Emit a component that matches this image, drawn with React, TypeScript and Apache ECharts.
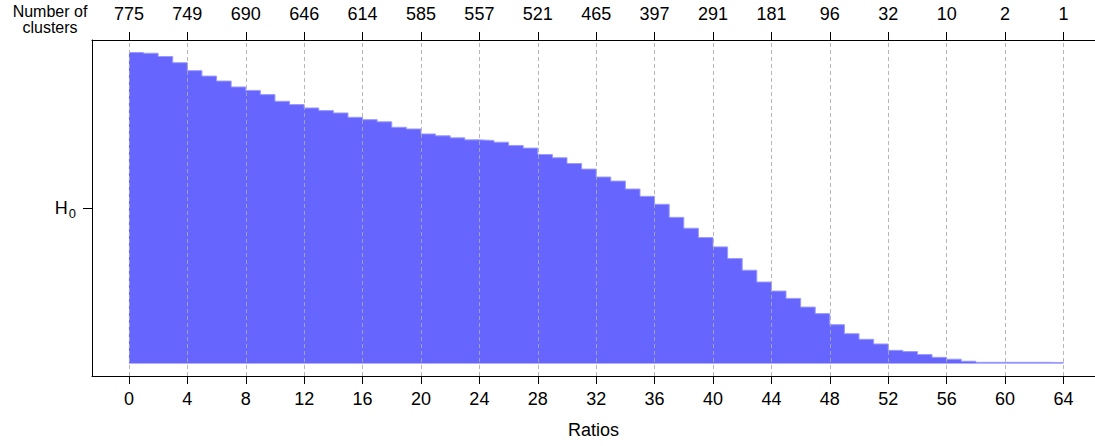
import { useEffect, useRef } from "react";
import * as echarts from "echarts";

// Bottom axis ticks (ratios) and matching top-axis labels (number of clusters)
const tickRatios = [0, 4, 8, 12, 16, 20, 24, 28, 32, 36, 40, 44, 48, 52, 56, 60, 64];
const clusterCounts = [775, 749, 690, 646, 614, 585, 557, 521, 465, 397, 291, 181, 96, 32, 10, 2, 1];

// Step heights for each unit interval [k, k+1), expressed relative to H0 = 1
const stepHeights = [
  2.0, 1.995, 1.974, 1.934, 1.883, 1.848, 1.816, 1.778, 1.756, 1.729,
  1.686, 1.665, 1.643, 1.626, 1.611, 1.583, 1.568, 1.554, 1.519, 1.508,
  1.476, 1.464, 1.451, 1.438, 1.434, 1.423, 1.402, 1.385, 1.344, 1.323,
  1.286, 1.25, 1.199, 1.173, 1.122, 1.075, 1.024, 0.94, 0.87, 0.81,
  0.75, 0.675, 0.6, 0.524, 0.466, 0.419, 0.363, 0.321, 0.25, 0.192,
  0.156, 0.126, 0.085, 0.077, 0.058, 0.04, 0.028, 0.015, 0.008, 0.008,
  0.008, 0.008, 0.008, 0.006,
];

const h0Value = 1;
const topTitleLines = ["Number of", "clusters"];

export default function App() {
  const ref = useRef<HTMLDivElement>(null);
  useEffect(() => {
    const chart = echarts.init(ref.current!, null, { renderer: "svg" });
    const data: number[][] = stepHeights.map((v, i) => [i, v]);
    data.push([stepHeights.length, stepHeights[stepHeights.length - 1]]);
    const font = "'Liberation Sans', Arial, Helvetica, sans-serif";
    const axisLine = { show: true, onZero: false, lineStyle: { color: "#000", width: 1 } };
    const axisTick = {
      show: true,
      length: 8,
      inside: false,
      customValues: tickRatios,
      lineStyle: { color: "#000", width: 1 },
    };
    const xMin = -2.53;
    const xMax = 66.16;
    chart.setOption({
      animation: false,
      textStyle: { fontFamily: font },
      grid: { left: 92, top: 40, width: 1003, height: 336, containLabel: false },
      graphic: topTitleLines.map((t, i) => ({
        type: "text",
        x: 50,
        y: 11 + i * 16,
        style: {
          text: t,
          fontSize: 16,
          lineHeight: 16,
          fontFamily: font,
          fill: "#000",
          align: "center",
          verticalAlign: "middle",
        },
      })),
      xAxis: [
        {
          type: "value",
          position: "bottom",
          min: xMin,
          max: xMax,
          name: "Ratios",
          nameLocation: "middle",
          nameGap: 45,
          nameTextStyle: { fontSize: 18, color: "#000", fontFamily: font },
          axisLine,
          axisTick,
          axisLabel: {
            customValues: tickRatios,
            margin: 14,
            fontSize: 18,
            color: "#000",
            fontFamily: font,
          },
          splitLine: { show: false },
        },
        {
          type: "value",
          position: "top",
          min: xMin,
          max: xMax,
          axisLine,
          axisTick,
          axisLabel: {
            customValues: tickRatios,
            margin: 17,
            fontSize: 18,
            color: "#000",
            fontFamily: font,
            formatter: (v: number) => String(clusterCounts[tickRatios.indexOf(Math.round(v))]),
          },
          splitLine: { show: false },
        },
      ],
      yAxis: {
        type: "value",
        min: -0.08,
        max: 2.08,
        axisLine,
        axisTick: { show: true, length: 9, customValues: [h0Value], lineStyle: { color: "#000" } },
        axisLabel: {
          customValues: [h0Value],
          margin: 16,
          color: "#000",
          formatter: () => "{h|H}{s|0}",
          rich: {
            h: { fontSize: 18, fontFamily: font, color: "#000", verticalAlign: "middle" },
            s: { fontSize: 13, fontFamily: font, color: "#000", padding: [10, 0, 0, 1] },
          },
        },
        splitLine: { show: false },
      },
      series: [
        {
          type: "line",
          step: "end",
          data,
          symbol: "none",
          xAxisIndex: 0,
          lineStyle: { color: "#9a9aff", width: 1 },
          areaStyle: { color: "#6666ff", opacity: 1 },
          silent: true,
          markLine: {
            silent: true,
            symbol: ["none", "none"],
            label: { show: false },
            emphasis: { disabled: true },
            lineStyle: { type: [4, 3], color: "rgba(170,170,170,0.85)", width: 1 },
            data: tickRatios.map((t) => ({ xAxis: t })),
          },
        },
      ],
    });
    return () => chart.dispose();
  }, []);
  return (
    <div
      ref={ref}
      style={{ position: "absolute", left: 0, top: 0, width: 1095, height: 446 }}
    />
  );
}
